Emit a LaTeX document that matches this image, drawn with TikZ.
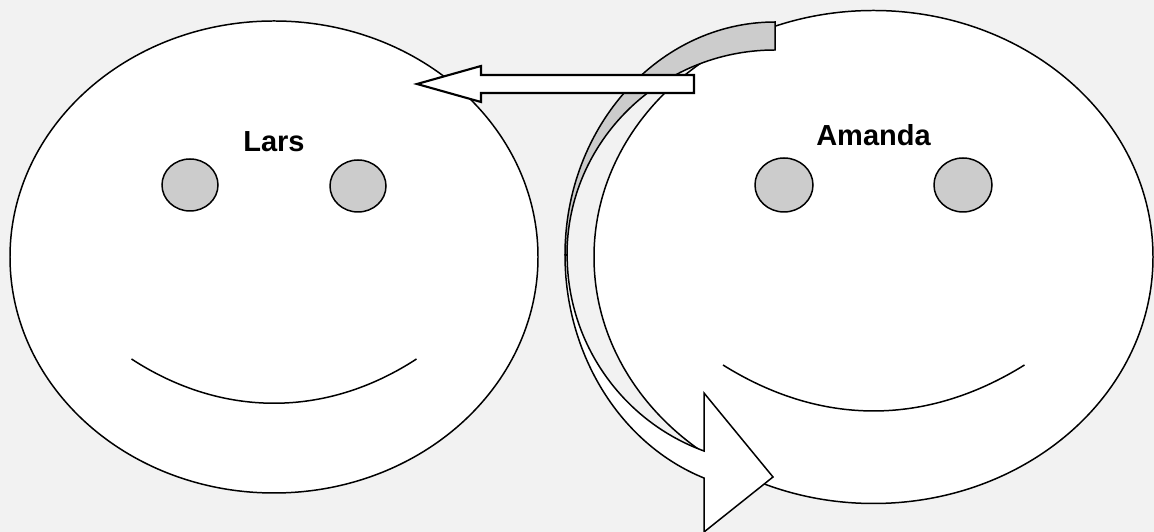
\documentclass[tikz,border=0pt]{standalone}
\usepackage{fontspec}
\setmainfont{Liberation Sans}
\usetikzlibrary{calc, positioning}
\definecolor{pagegray}{HTML}{F2F2F2}
\definecolor{eyegray}{HTML}{CCCCCC}
\begin{document}
\begin{tikzpicture}[x=0.2mm, y=0.2mm, line join=miter,
    facedraw/.style={draw=black, fill=white, line width=0.85pt},
    eyedraw/.style={draw=black, fill=eyegray, line width=0.85pt},
    mouthdraw/.style={draw=black, line width=0.85pt},
    namelabel/.style={font=\bfseries\fontsize{16.5}{18}\selectfont, text=black, inner sep=0pt}]
        \fill[pagegray] (0,0) rectangle (1154,532);
        \useasboundingbox (0,0) rectangle (1154,532);

        % left face
        \coordinate (Lcenter) at (274,275);
        \draw[facedraw] (Lcenter) ellipse [x radius=264, y radius=236];
        \draw[eyedraw] (190,347) ellipse [x radius=28, y radius=26];
        \draw[eyedraw] (358,346) ellipse [x radius=28, y radius=26];
        \coordinate (LmouthA) at (131.5,173);
        \coordinate (LmouthB) at (416.5,173);
        \draw[mouthdraw] (LmouthA) .. controls (222,114) and (326,114) .. (LmouthB);
        \node[namelabel] (Lname) at (274,390) {Lars};

        % right face
        \coordinate (Acenter) at (873.5,275);
        \draw[facedraw] (Acenter) ellipse [x radius=279.5, y radius=246.5];
        \draw[eyedraw] (784,347) ellipse [x radius=29, y radius=27];
        \draw[eyedraw] (963,347) ellipse [x radius=29, y radius=27];
        \coordinate (AmouthA) at (723,167);
        \coordinate (AmouthB) at (1024.5,167);
        \draw[mouthdraw] (AmouthA) .. controls (821,105.7) and (926,105.7) .. (AmouthB);
        \node[namelabel] (Aname) at (873.5,397) {Amanda};

        % curved arrow, lower part then grey back
        \draw[facedraw] (565,277) arc [start angle=180, end angle=250.3, x radius=210, y radius=237]
            -- (704,0) -- (773,55) -- (704,139) -- (704,81)
            arc [start angle=250, end angle=180, x radius=208, y radius=208.5] -- cycle;
        \draw[eyedraw] (775,510) arc [start angle=90, end angle=180, x radius=210, y radius=233]
            -- (567,277)
            arc [start angle=180, end angle=90, x radius=208, y radius=205] -- cycle;

        % straight arrow
        \draw[draw=black, fill=white, line width=1.2pt]
            (417,448) -- (481,466) -- (481,457) -- (694,457) -- (694,439)
            -- (481,439) -- (481,430) -- cycle;
\end{tikzpicture}
\end{document}
